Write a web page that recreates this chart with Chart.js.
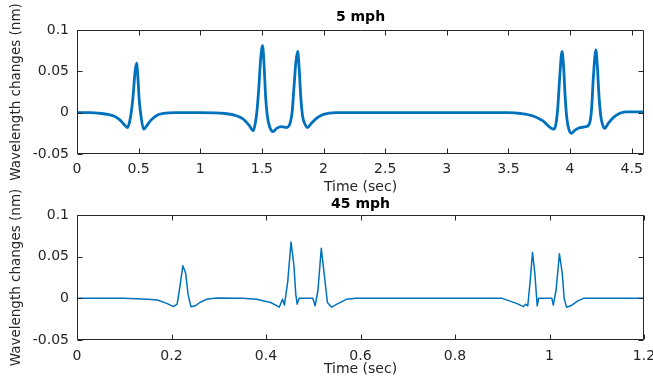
<!DOCTYPE html>
<html>
<head>
<meta charset="utf-8">
<script src="https://cdn.jsdelivr.net/npm/chart.js@4/dist/chart.umd.min.js"></script>
<style>
  html, body { margin:0; padding:0; background:#fff; }
  #wrap { position:relative; width:653px; height:383px; overflow:hidden; background:#fff; }
  #c1 { position:absolute; left:0; top:0; }
  #c2 { position:absolute; left:0; top:150px; }
</style>
</head>
<body>
<div id="wrap">
  <canvas id="c1" width="653" height="196"></canvas>
  <canvas id="c2" width="653" height="233"></canvas>
</div>
<script>
// ---- data ----
const title5 = "5 mph";
const title45 = "45 mph";
const xLabel = "Time (sec)";
const yLabel = "Wavelength changes (nm)";

const t5 = [0, 0.1, 0.2, 0.25, 0.3, 0.35, 0.38, 0.41, 0.425, 0.44, 0.455, 0.47, 0.483, 0.495, 0.505, 0.52, 0.54, 0.56, 0.6, 0.65, 0.7, 0.8, 1.0, 1.2, 1.3, 1.35, 1.4, 1.43, 1.445, 1.46, 1.475, 1.49, 1.505, 1.517, 1.53, 1.545, 1.565, 1.59, 1.62, 1.66, 1.7, 1.73, 1.745, 1.76, 1.775, 1.79, 1.802, 1.815, 1.83, 1.85, 1.87, 1.9, 1.95, 2.0, 2.1, 2.5, 3.0, 3.5, 3.6, 3.7, 3.78, 3.84, 3.87, 3.885, 3.9, 3.915, 3.935, 3.948, 3.96, 3.975, 3.99, 4.01, 4.04, 4.08, 4.13, 4.16, 4.175, 4.19, 4.21, 4.222, 4.235, 4.25, 4.265, 4.28, 4.31, 4.35, 4.4, 4.45, 4.6];
const v5 = [0, 0, -0.001, -0.002, -0.004, -0.009, -0.014, -0.018, -0.012, 0.0, 0.02, 0.048, 0.06, 0.04, 0.015, -0.005, -0.02, -0.017, -0.009, -0.003, -0.001, 0, 0, -0.001, -0.004, -0.008, -0.016, -0.022, -0.014, 0.002, 0.03, 0.065, 0.081, 0.06, 0.02, -0.005, -0.018, -0.023, -0.019, -0.017, -0.018, -0.012, 0.0, 0.03, 0.06, 0.074, 0.055, 0.02, -0.004, -0.014, -0.018, -0.013, -0.006, -0.002, 0, 0, 0, 0, -0.001, -0.004, -0.01, -0.018, -0.02, -0.014, 0.005, 0.04, 0.074, 0.055, 0.02, -0.008, -0.02, -0.025, -0.021, -0.018, -0.017, -0.012, 0.005, 0.045, 0.076, 0.055, 0.02, -0.005, -0.015, -0.019, -0.013, -0.006, -0.001, 0.001, 0.001];

const t45 = [0, 0.1, 0.15, 0.17, 0.19, 0.204, 0.212, 0.218, 0.224, 0.23, 0.235, 0.241, 0.25, 0.26, 0.275, 0.29, 0.3, 0.35, 0.38, 0.41, 0.428, 0.435, 0.439, 0.446, 0.453, 0.459, 0.463, 0.466, 0.470, 0.499, 0.504, 0.51, 0.517, 0.523, 0.53, 0.539, 0.55, 0.571, 0.59, 0.9, 0.93, 0.945, 0.949, 0.954, 0.959, 0.964, 0.969, 0.974, 0.977, 1.005, 1.008, 1.014, 1.021, 1.027, 1.031, 1.036, 1.045, 1.06, 1.072, 1.2];
const v45 = [0, 0, -0.001, -0.002, -0.006, -0.01, -0.007, 0.015, 0.039, 0.03, 0.005, -0.01, -0.009, -0.005, -0.001, 0, 0.0005, 0, -0.001, -0.005, -0.0106, -0.001, -0.008, 0.02, 0.0676, 0.04, 0.005, -0.007, 0, 0, -0.009, 0.01, 0.06, 0.03, -0.005, -0.0106, -0.007, -0.001, 0, 0, -0.006, -0.01, -0.007, -0.009, 0.02, 0.055, 0.03, -0.009, 0, 0, -0.008, 0.01, 0.0535, 0.03, 0.0, -0.0106, -0.009, -0.003, 0, 0];

const xTicks5 = [0, 0.5, 1, 1.5, 2, 2.5, 3, 3.5, 4, 4.5];
const xTicks45 = [0, 0.2, 0.4, 0.6, 0.8, 1, 1.2];
const yTicks = [-0.05, 0, 0.05, 0.1];

// ---- drawing ----
const LINE = '#0072BD';
const AXIS = '#262626';
const FONT = '"DejaVu Sans", "Liberation Sans", sans-serif';

const boxPlugin = {
  id: 'box',
  afterDraw(chart, args, opts) {
    const {ctx, chartArea} = chart;
    const {left, right, top, bottom} = chartArea;
    const x = chart.scales.x, y = chart.scales.y;
    ctx.save();
    ctx.strokeStyle = AXIS;
    ctx.lineWidth = 1;
    const L = Math.round(left) + 0.5, R = Math.round(right) - 0.5;
    const T = Math.round(top) + 0.5, B = Math.round(bottom) - 0.5;
    ctx.beginPath();
    ctx.rect(L, T, R - L, B - T);
    const tl = 5;
    x.ticks.forEach(t => {
      const px = Math.round(x.getPixelForValue(t.value)) + 0.5;
      ctx.moveTo(px, B); ctx.lineTo(px, B - tl);
      ctx.moveTo(px, T); ctx.lineTo(px, T + tl);
    });
    y.ticks.forEach(t => {
      const py = Math.round(y.getPixelForValue(t.value)) + 0.5;
      ctx.moveTo(L, py); ctx.lineTo(L + tl, py);
      ctx.moveTo(R, py); ctx.lineTo(R - tl, py);
    });
    ctx.stroke();
    ctx.fillStyle = '#000';
    ctx.font = 'bold 14px ' + FONT;
    ctx.textAlign = 'center';
    ctx.textBaseline = 'middle';
    ctx.fillText(opts.text, (left + right) / 2, opts.y);
    ctx.restore();
  }
};

function fmt(v) { return String(Number(Number(v).toFixed(3))); }

function makeChart(id, ts, vs, xTicks, xMax, lw, cfg) {
  const data = ts.map((t, i) => ({x: t, y: vs[i]}));
  return new Chart(document.getElementById(id), {
    type: 'line',
    data: { datasets: [{ data, borderColor: LINE, borderWidth: lw, pointRadius: 0,
                         cubicInterpolationMode: cfg.smooth ? 'monotone' : 'default', tension: 0,
                         borderJoinStyle: 'round', fill: false }] },
    plugins: [boxPlugin],
    options: {
      responsive: false,
      animation: false,
      devicePixelRatio: 1,
      layout: { padding: { top: cfg.padTop, right: 9, left: 0, bottom: 0 } },
      plugins: { legend: { display: false }, tooltip: { enabled: false }, title: { display: false },
                 box: { text: cfg.title, y: cfg.titleY } },
      scales: {
        x: {
          type: 'linear', min: 0, max: xMax,
          grid: { display: false, drawTicks: false },
          border: { display: false },
          afterBuildTicks: s => { s.ticks = xTicks.map(v => ({value: v})); },
          afterFit: s => { s.height = cfg.xHeight; s.paddingLeft = 0; s.paddingRight = 0; },
          ticks: { color: AXIS, font: { family: FONT, size: 14 }, padding: cfg.xTickPad, maxRotation: 0, autoSkip: false, callback: v => fmt(v) },
          title: { display: true, text: xLabel, color: AXIS, font: { family: FONT, size: 14 }, padding: { top: 0, bottom: cfg.xTitlePad } }
        },
        y: {
          type: 'linear', min: -0.05, max: 0.1,
          grid: { display: false, drawTicks: false },
          border: { display: false },
          afterBuildTicks: s => { s.ticks = yTicks.map(v => ({value: v})); },
          afterFit: s => { s.width = 77; s.paddingTop = 0; s.paddingBottom = 0; },
          ticks: { color: AXIS, font: { family: FONT, size: 14 }, padding: 8, autoSkip: false, callback: v => fmt(v) },
          title: { display: true, text: yLabel, color: AXIS, font: { family: FONT, size: 13.5 }, padding: { top: 8, bottom: 0 } }
        }
      }
    }
  });
}

makeChart('c1', t5, v5, xTicks5, 4.6, 2.8, { title: title5, titleY: 17, padTop: 30, xHeight: 42, xTickPad: 7, xTitlePad: 0, smooth: true });
makeChart('c2', t45, v45, xTicks45, 1.2, 1.5, { title: title45, titleY: 54, padTop: 65, xHeight: 43, xTickPad: 8, xTitlePad: 5, smooth: false });
</script>
</body>
</html>
